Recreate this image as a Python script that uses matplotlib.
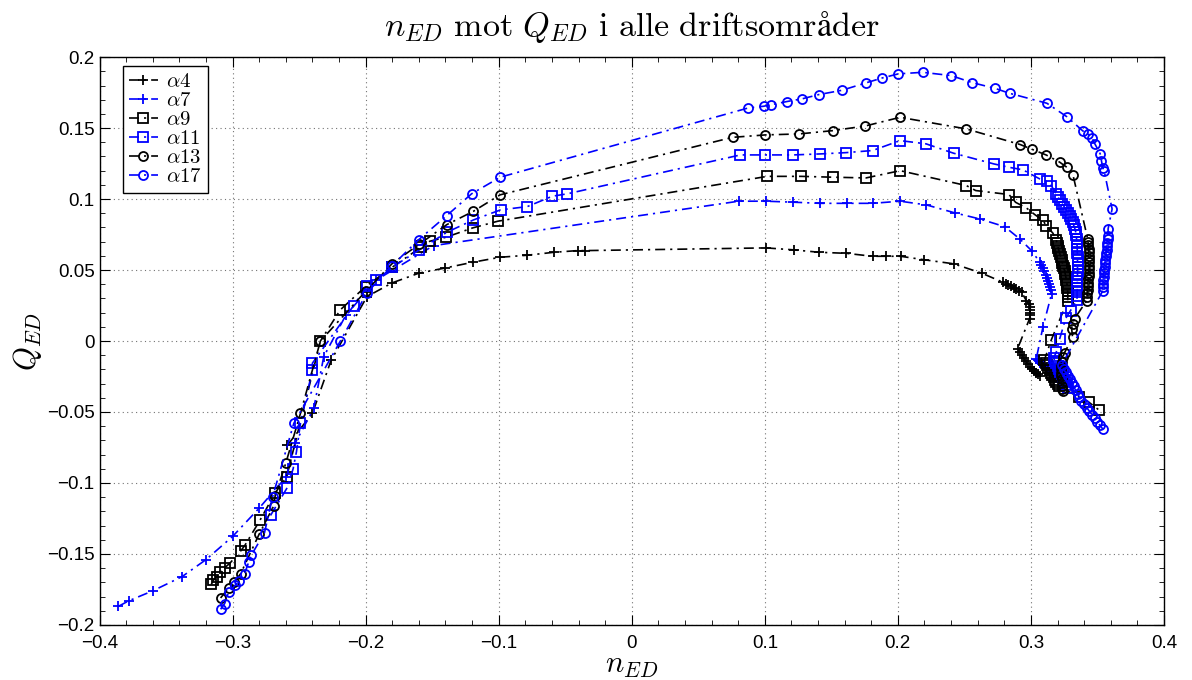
import matplotlib
matplotlib.use('Agg')
import matplotlib.pyplot as plt
from matplotlib.ticker import MultipleLocator, FuncFormatter

plt.rcParams['mathtext.fontset'] = 'cm'
plt.rcParams['font.family'] = ['Liberation Sans', 'DejaVu Sans']

# (n_ED, Q_ED) points, in drawing order
a4_pts = [(-0.259, -0.0736), (-0.240, -0.051), (-0.226, -0.0137), (-0.199, 0.0313), (-0.180, 0.041),
          (-0.160, 0.0478), (-0.140, 0.0515), (-0.1195, 0.0555), (-0.099, 0.059), (-0.079, 0.0604),
          (-0.0586, 0.0625), (-0.0406, 0.0637), (-0.035, 0.0637), (0.101, 0.0656), (0.122, 0.0642),
          (0.141, 0.0625), (0.161, 0.0618), (0.181, 0.0597), (0.191, 0.0597), (0.202, 0.0597),
          (0.220, 0.0572), (0.242, 0.0544), (0.263, 0.0478), (0.279, 0.0414), (0.281, 0.0405),
          (0.283, 0.0395), (0.285, 0.0385), (0.287, 0.0375), (0.289, 0.0365), (0.291, 0.0355),
          (0.293, 0.0344), (0.2965, 0.0285), (0.2985, 0.026), (0.2992, 0.024), (0.2995, 0.022),
          (0.2995, 0.020), (0.2993, 0.018), (0.299, 0.0158), (0.290, -0.0053), (0.2915, -0.008),
          (0.293, -0.010), (0.2945, -0.012), (0.296, -0.014), (0.2975, -0.016), (0.299, -0.018),
          (0.3005, -0.0195), (0.302, -0.021), (0.3035, -0.0222), (0.305, -0.0233), (0.3065, -0.0243)]

a7_pts = [(-0.386, -0.187), (-0.378, -0.183), (-0.360, -0.176), (-0.338, -0.166), (-0.320, -0.154),
          (-0.300, -0.1377), (-0.280, -0.1177), (-0.260, -0.096), (-0.253, -0.072), (-0.239, -0.0475),
          (-0.2315, -0.011), (-0.215, 0.018), (-0.192, 0.043), (-0.149, 0.0672), (0.0804, 0.0985),
          (0.101, 0.0985), (0.1214, 0.0978), (0.1416, 0.097), (0.1615, 0.097), (0.181, 0.097),
          (0.2017, 0.0985), (0.2214, 0.0959), (0.2427, 0.0903), (0.2615, 0.086), (0.2802, 0.0806),
          (0.2915, 0.072), (0.301, 0.0632), (0.3065, 0.0555), (0.3078, 0.0535), (0.309, 0.0512),
          (0.310, 0.049), (0.311, 0.0468), (0.3118, 0.0446), (0.3126, 0.0424), (0.3134, 0.0402),
          (0.3141, 0.038), (0.3148, 0.0356), (0.3155, 0.0332), (0.309, 0.0097), (0.304, -0.0125),
          (0.305, -0.0134), (0.306, -0.0143), (0.307, -0.0152), (0.308, -0.0161), (0.309, -0.017),
          (0.310, -0.0179), (0.311, -0.0188), (0.312, -0.0197), (0.313, -0.0206), (0.314, -0.0215),
          (0.315, -0.0224), (0.316, -0.0233), (0.317, -0.0242), (0.318, -0.025), (0.319, -0.0258)]

a9_pts = [(-0.316, -0.1715), (-0.3145, -0.1687), (-0.312, -0.1659), (-0.3095, -0.1628), (-0.306, -0.1598),
          (-0.302, -0.1565), (-0.294, -0.148), (-0.2908, -0.144), (-0.2795, -0.1264), (-0.268, -0.107),
          (-0.2594, -0.0959), (-0.234, 0.0), (-0.219, 0.022), (-0.2, 0.0384), (-0.18, 0.052),
          (-0.1585, 0.066), (-0.1518, 0.0703), (-0.1397, 0.0731), (-0.1195, 0.0797), (-0.1007, 0.0844),
          (0.1018, 0.116), (0.1273, 0.116), (0.1515, 0.1154), (0.1761, 0.1149), (0.2017, 0.120),
          (0.2515, 0.1095), (0.2585, 0.106), (0.2835, 0.1032), (0.2885, 0.0977), (0.2965, 0.0938),
          (0.303, 0.089), (0.309, 0.085), (0.3115, 0.0813), (0.3165, 0.076), (0.319, 0.0713),
          (0.3195, 0.0692), (0.320, 0.0672), (0.3206, 0.0652), (0.3212, 0.0632), (0.3218, 0.0612),
          (0.3224, 0.0592), (0.323, 0.0572), (0.3236, 0.0552), (0.3242, 0.0532), (0.3248, 0.0512),
          (0.3253, 0.0492), (0.3258, 0.0472), (0.3262, 0.0452), (0.3266, 0.0432), (0.3269, 0.0412),
          (0.3272, 0.0392), (0.3274, 0.0372), (0.3276, 0.0352), (0.3277, 0.0332), (0.3277, 0.031),
          (0.3276, 0.0285), (0.3153, 0.0008), (0.310, -0.0137), (0.311, -0.0155), (0.312, -0.0172),
          (0.313, -0.019), (0.314, -0.0207), (0.315, -0.0224), (0.316, -0.024), (0.317, -0.0256),
          (0.318, -0.0272), (0.319, -0.0288), (0.320, -0.0304), (0.321, -0.032), (0.336, -0.0394),
          (0.3434, -0.043), (0.351, -0.0485)]

a11_pts = [(-0.2715, -0.1229), (-0.259, -0.1034), (-0.2545, -0.090), (-0.252, -0.078), (-0.249, -0.058),
           (-0.240, -0.0203), (-0.240, -0.0156), (-0.209, 0.025), (-0.199, 0.039), (-0.192, 0.043),
           (-0.18, 0.052), (-0.16, 0.064), (-0.139, 0.0766), (-0.119, 0.0853), (-0.0986, 0.0924),
           (-0.0785, 0.0947), (-0.0597, 0.102), (-0.0485, 0.1037), (0.0817, 0.1311), (0.1005, 0.1311),
           (0.1214, 0.1311), (0.1416, 0.1318), (0.1608, 0.1327), (0.181, 0.1342), (0.2017, 0.1412),
           (0.2212, 0.1389), (0.2419, 0.1323), (0.272, 0.1248), (0.2835, 0.1224), (0.294, 0.1206),
           (0.3066, 0.1142), (0.312, 0.1125), (0.3153, 0.1095), (0.319, 0.1036), (0.3205, 0.1012),
           (0.322, 0.099), (0.3235, 0.0968), (0.325, 0.0946), (0.3265, 0.0924), (0.328, 0.0902),
           (0.3292, 0.088), (0.3303, 0.0858), (0.3313, 0.0836), (0.3322, 0.0814), (0.333, 0.0792),
           (0.3336, 0.077), (0.334, 0.0745), (0.3343, 0.072), (0.3345, 0.0695), (0.3347, 0.067),
           (0.3348, 0.0645), (0.3349, 0.062), (0.335, 0.0595), (0.335, 0.057), (0.335, 0.0545),
           (0.335, 0.052), (0.335, 0.0495), (0.335, 0.047), (0.3349, 0.0445), (0.3349, 0.042),
           (0.3348, 0.0395), (0.3348, 0.037), (0.3347, 0.0345), (0.3347, 0.032), (0.3346, 0.029),
           (0.3298, 0.0215), (0.3261, 0.0159), (0.3216, 0.0015), (0.319, -0.008), (0.317, -0.012),
           (0.318, -0.0139), (0.319, -0.0158), (0.320, -0.0177), (0.321, -0.0196), (0.322, -0.0215),
           (0.323, -0.0234), (0.324, -0.0253), (0.325, -0.0272), (0.326, -0.0291), (0.327, -0.031),
           (0.328, -0.033)]

a13_pts = [(-0.309, -0.181), (-0.303, -0.174), (-0.299, -0.170), (-0.294, -0.164), (-0.280, -0.136),
           (-0.269, -0.116), (-0.268, -0.109), (-0.260, -0.086), (-0.249, -0.051), (-0.234, 0.0),
           (-0.2, 0.035), (-0.180, 0.0546), (-0.16, 0.068), (-0.139, 0.082), (-0.119, 0.0914),
           (-0.0989, 0.103), (0.0758, 0.1435), (0.1005, 0.1452), (0.1259, 0.1459), (0.151, 0.1482),
           (0.1756, 0.1515), (0.2017, 0.1576), (0.2515, 0.1494), (0.292, 0.1384), (0.301, 0.135),
           (0.3116, 0.131), (0.3216, 0.126), (0.327, 0.1224), (0.3316, 0.117), (0.3426, 0.0722),
           (0.3429, 0.0698), (0.3432, 0.0674), (0.3434, 0.065), (0.3436, 0.0626), (0.3437, 0.0602),
           (0.3438, 0.0578), (0.3438, 0.0554), (0.3438, 0.053), (0.3437, 0.0506), (0.3436, 0.0482),
           (0.3434, 0.0458), (0.3432, 0.0434), (0.343, 0.041), (0.3428, 0.0386), (0.3426, 0.0362),
           (0.3424, 0.0338), (0.3422, 0.0312), (0.342, 0.0285), (0.3328, 0.0158), (0.3313, 0.0123),
           (0.3306, 0.0088), (0.3313, 0.0025), (0.3253, -0.0081), (0.3238, -0.0116), (0.323, -0.0151),
           (0.3229, -0.0175), (0.3228, -0.0199), (0.3228, -0.0223), (0.3229, -0.0247), (0.323, -0.0271),
           (0.3232, -0.0295), (0.3234, -0.0319), (0.3236, -0.0335), (0.3238, -0.0349)]

a17_pts = [(-0.309, -0.189), (-0.306, -0.185), (-0.303, -0.177), (-0.298, -0.172), (-0.295, -0.169),
           (-0.291, -0.164), (-0.288, -0.156), (-0.286, -0.151), (-0.276, -0.135), (-0.270, -0.110),
           (-0.254, -0.058), (-0.219, 0.0), (-0.199, 0.034), (-0.180, 0.0532), (-0.160, 0.0715),
           (-0.139, 0.0884), (-0.1204, 0.1037), (-0.0989, 0.1154), (0.0876, 0.1642), (0.0992, 0.1654),
           (0.105, 0.1665), (0.1165, 0.1687), (0.128, 0.1706), (0.1405, 0.1736), (0.1578, 0.1766),
           (0.1758, 0.1818), (0.1882, 0.1853), (0.2003, 0.1882), (0.2186, 0.1893), (0.240, 0.187),
           (0.256, 0.182), (0.273, 0.178), (0.284, 0.1745), (0.312, 0.1675), (0.327, 0.158),
           (0.339, 0.148), (0.343, 0.146), (0.346, 0.143), (0.348, 0.139), (0.352, 0.132),
           (0.353, 0.127), (0.354, 0.122), (0.355, 0.120), (0.361, 0.093), (0.358, 0.079),
           (0.358, 0.074), (0.3577, 0.0716), (0.3574, 0.0692), (0.3571, 0.0668), (0.3568, 0.0644),
           (0.3565, 0.062), (0.3562, 0.0596), (0.3559, 0.0572), (0.3556, 0.0548), (0.3553, 0.0524),
           (0.355, 0.050), (0.3548, 0.0476), (0.3546, 0.0452), (0.3544, 0.0428), (0.3542, 0.0404),
           (0.354, 0.0378), (0.3538, 0.035), (0.323, -0.017), (0.3245, -0.0195), (0.326, -0.022),
           (0.3275, -0.0245), (0.329, -0.027), (0.3305, -0.0295), (0.332, -0.032), (0.3335, -0.0345),
           (0.335, -0.037), (0.3365, -0.0395), (0.338, -0.042), (0.340, -0.0445), (0.342, -0.047),
           (0.344, -0.0495), (0.346, -0.052), (0.348, -0.0545), (0.350, -0.057), (0.352, -0.0595),
           (0.354, -0.062)]

series = [
    (a4_pts, 'k', '+', r'$\alpha4$'),
    (a7_pts, 'b', '+', r'$\alpha7$'),
    (a9_pts, 'k', 's', r'$\alpha9$'),
    (a11_pts, 'b', 's', r'$\alpha11$'),
    (a13_pts, 'k', 'o', r'$\alpha13$'),
    (a17_pts, 'b', 'o', r'$\alpha17$'),
]

fig = plt.figure(figsize=(11.92, 6.8), dpi=100)
ax = fig.add_axes([0.0835, 0.081, 0.893, 0.835])

for pts, col, mk, lab in series:
    xs = [p[0] for p in pts]
    ys = [p[1] for p in pts]
    ax.plot(xs, ys, color=col, linestyle=(0, (6, 3, 1.3, 3)), lw=1.2,
            marker=mk, ms=7 if mk == '+' else 6.5, mfc='none', mec=col, mew=1.3, label=lab)

ax.set_xlim(-0.4, 0.4)
ax.set_ylim(-0.2, 0.2)
ax.xaxis.set_major_locator(MultipleLocator(0.1))
ax.yaxis.set_major_locator(MultipleLocator(0.05))
ax.xaxis.set_minor_locator(MultipleLocator(0.02))
ax.yaxis.set_minor_locator(MultipleLocator(0.01))
fmt = FuncFormatter(lambda v, p: ('%g' % round(v, 3)).replace('-', '\u2212'))
ax.xaxis.set_major_formatter(fmt)
ax.yaxis.set_major_formatter(fmt)
ax.tick_params(which='both', direction='in', top=True, right=True, labelsize=13.5)
ax.tick_params(which='major', length=7)
ax.tick_params(which='minor', length=3.5)
ax.tick_params(axis='x', pad=7)
ax.grid(True, which='major', color='0.45', linestyle=(0, (1, 3)), linewidth=0.8)
for s in ax.spines.values():
    s.set_linewidth(1.0)

ax.set_title(r'$n_{ED}\ \mathrm{mot}\ Q_{ED}\ \mathrm{i\ alle\ driftsområder}$',
             fontsize=24.5, pad=15)
ax.set_xlabel(r'$n_{ED}$', fontsize=22, labelpad=-1)
ax.set_ylabel(r'$Q_{ED}$', fontsize=22, labelpad=2)

leg = ax.legend(loc='upper left', bbox_to_anchor=(0.0216, 0.984), borderaxespad=0,
                fontsize=15, handlelength=1.4, handletextpad=0.4,
                labelspacing=0.0, borderpad=0.3, fancybox=False,
                framealpha=1, edgecolor='k')
leg.get_frame().set_linewidth(1.0)

fig.savefig('out.png', dpi=100)
